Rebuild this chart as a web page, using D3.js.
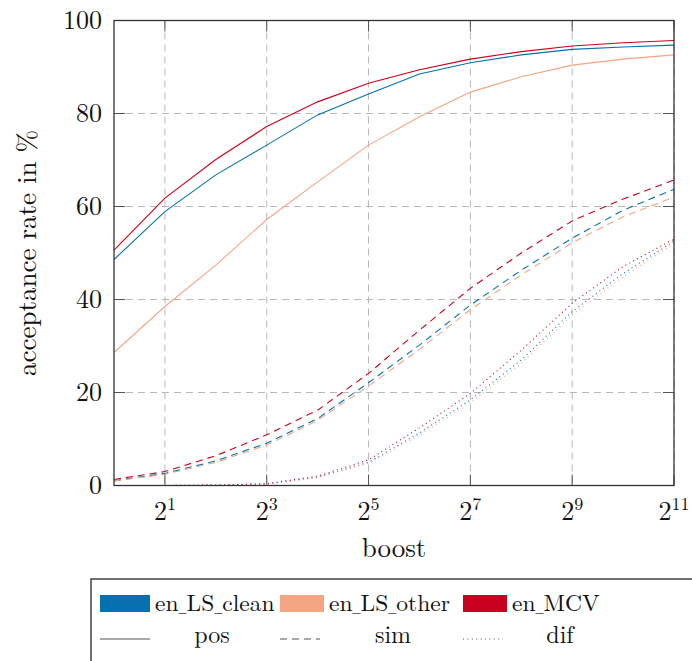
<!DOCTYPE html>
<html>
<head>
<meta charset="utf-8">
<script src="https://cdn.jsdelivr.net/npm/d3@7"></script>
<style>
  body { margin: 0; background: #fff; }
  text { font-family: "Latin Modern Roman", "Liberation Serif", serif; }
</style>
</head>
<body>
<svg id="chart" width="692" height="661"></svg>
<script>
'use strict';

// boost exponents (boost = 2^e)
const exponents = [0, 1, 2, 3, 4, 5, 6, 7, 8, 9, 10, 11];
const xTickExps = [1, 3, 5, 7, 9, 11];
const yTicks = [0, 20, 40, 60, 80, 100];

const datasets = ['en_LS_clean', 'en_LS_other', 'en_MCV'];
const colors = ['#0571b0', '#f4a582', '#ca0020'];

// acceptance rate in %
const posClean = [48.6, 58.9, 66.8, 73.2, 79.7, 84.2, 88.5, 90.9, 92.6, 93.8, 94.3, 94.7];
const posOther = [28.6, 38.5, 47.4, 57.2, 65.3, 73.2, 79.3, 84.6, 87.9, 90.4, 91.7, 92.6];
const posMcv   = [50.6, 61.8, 70.1, 77.2, 82.5, 86.5, 89.4, 91.7, 93.3, 94.5, 95.2, 95.7];

const simClean = [1.0, 2.6, 5.3, 9.1, 14.4, 22.1, 30.2, 38.8, 46.3, 53.2, 59.2, 63.7];
const simOther = [1.0, 2.4, 5.0, 8.7, 14.0, 21.4, 29.3, 37.8, 45.3, 52.2, 57.8, 62.0];
const simMcv   = [1.3, 3.0, 6.4, 10.9, 16.2, 24.1, 33.4, 42.4, 50.0, 56.9, 61.6, 65.7];

const difClean = [0.0, 0.0, 0.1, 0.3, 1.8, 5.0, 11.3, 18.4, 27.0, 37.4, 45.6, 52.5];
const difOther = [0.0, 0.0, 0.1, 0.3, 1.7, 4.8, 10.8, 17.8, 26.3, 36.7, 44.9, 52.0];
const difMcv   = [0.0, 0.0, 0.1, 0.4, 2.0, 5.5, 12.4, 19.8, 29.1, 39.2, 47.1, 53.0];

const legendStyles = ['pos', 'sim', 'dif'];

const DASHED = '7 5';
const DOTTED = '1 3.4';

const series = [
  { color: colors[0], dash: null, values: posClean },
  { color: colors[1], dash: null, values: posOther },
  { color: colors[2], dash: null, values: posMcv },
  { color: colors[0], dash: DASHED, values: simClean },
  { color: colors[1], dash: DASHED, values: simOther },
  { color: colors[2], dash: DASHED, values: simMcv },
  { color: colors[0], dash: DOTTED, values: difClean },
  { color: colors[1], dash: DOTTED, values: difOther },
  { color: colors[2], dash: DOTTED, values: difMcv }
];

const svg = d3.select('#chart');
const plot = { left: 114, right: 674, top: 20.5, bottom: 485.5 };

const x = d3.scaleLinear().domain([0, 11]).range([plot.left, plot.right]);
const y = d3.scaleLinear().domain([0, 100]).range([plot.bottom, plot.top]);

// grid
const grid = svg.append('g')
  .attr('stroke', '#b8b8b8')
  .attr('stroke-width', 1)
  .attr('stroke-dasharray', '7 5');
grid.selectAll('.vg').data(xTickExps).enter().append('line')
  .attr('x1', d => x(d)).attr('x2', d => x(d))
  .attr('y1', plot.top).attr('y2', plot.bottom);
grid.selectAll('.hg').data(yTicks.slice(1, -1)).enter().append('line')
  .attr('y1', d => y(d)).attr('y2', d => y(d))
  .attr('x1', plot.left).attr('x2', plot.right);

// lines
const line = d3.line()
  .x((d, i) => x(exponents[i]))
  .y(d => y(d));

svg.append('g').selectAll('path')
  .data(series)
  .enter().append('path')
    .attr('fill', 'none')
    .attr('stroke', d => d.color)
    .attr('stroke-width', 1.1)
    .attr('stroke-dasharray', d => d.dash)
    .attr('d', d => line(d.values));

// ticks inside, on all four sides
const ticks = svg.append('g').attr('stroke', '#555').attr('stroke-width', 1);
const tl = 11;
xTickExps.forEach(e => {
  ticks.append('line').attr('x1', x(e)).attr('x2', x(e)).attr('y1', plot.bottom).attr('y2', plot.bottom - tl);
  ticks.append('line').attr('x1', x(e)).attr('x2', x(e)).attr('y1', plot.top).attr('y2', plot.top + tl);
});
yTicks.forEach(v => {
  ticks.append('line').attr('y1', y(v)).attr('y2', y(v)).attr('x1', plot.left).attr('x2', plot.left + tl);
  ticks.append('line').attr('y1', y(v)).attr('y2', y(v)).attr('x1', plot.right).attr('x2', plot.right - tl);
});

// frame
svg.append('rect')
  .attr('x', plot.left).attr('y', plot.top)
  .attr('width', plot.right - plot.left).attr('height', plot.bottom - plot.top)
  .attr('fill', 'none').attr('stroke', '#333').attr('stroke-width', 1.3);

// tick labels
svg.append('g').selectAll('text')
  .data(yTicks)
  .enter().append('text')
    .attr('x', plot.left - 12)
    .attr('y', d => y(d) + 8.5)
    .attr('text-anchor', 'end')
    .attr('font-size', 26)
    .attr('fill', '#111')
    .text(d => d);

const xl = svg.append('g').selectAll('text')
  .data(xTickExps)
  .enter().append('text')
    .attr('x', d => x(d))
    .attr('y', 520)
    .attr('text-anchor', 'middle')
    .attr('font-size', 26)
    .attr('fill', '#111');
xl.append('tspan').text('2');
xl.append('tspan').attr('font-size', 18).attr('dy', -10).text(d => d);

// axis titles
svg.append('text')
  .attr('x', (plot.left + plot.right) / 2)
  .attr('y', 557)
  .attr('text-anchor', 'middle')
  .attr('font-size', 27)
  .attr('fill', '#111')
  .text('boost');

svg.append('text')
  .attr('transform', `translate(36, ${(plot.top + plot.bottom) / 2}) rotate(-90)`)
  .attr('text-anchor', 'middle')
  .attr('font-size', 27)
  .attr('fill', '#111')
  .text('acceptance rate in %');

// legend
const lg = svg.append('g');
lg.append('rect')
  .attr('x', 91).attr('y', 579)
  .attr('width', 700).attr('height', 120)
  .attr('fill', '#fff').attr('stroke', '#222').attr('stroke-width', 1.3);

const colX = [100, 280, 463];
datasets.forEach((name, i) => {
  lg.append('rect')
    .attr('x', colX[i]).attr('y', 595)
    .attr('width', i === 0 ? 50 : 44).attr('height', 17)
    .attr('fill', colors[i]);
  const t = lg.append('text')
    .attr('x', colX[i] + (i === 0 ? 55 : 49))
    .attr('y', 611)
    .attr('font-size', 23.5)
    .attr('fill', '#111');
  // LaTeX's \_ is a short rule, narrower than the font's underscore
  name.split('_').forEach((part, k) => {
    if (k > 0) {
      t.append('tspan')
        .attr('textLength', 8)
        .attr('lengthAdjust', 'spacingAndGlyphs')
        .text('_');
    }
    t.append('tspan').text(part);
  });
});

const styleDash = [null, DASHED, DOTTED];
const labelX = [212, 393, 560];
legendStyles.forEach((name, i) => {
  const x0 = i === 0 ? 100 : colX[i];
  lg.append('line')
    .attr('x1', x0).attr('x2', x0 + (i === 0 ? 50 : 40))
    .attr('y1', 639).attr('y2', 639)
    .attr('stroke', '#555')
    .attr('stroke-width', 1.1)
    .attr('stroke-dasharray', styleDash[i]);
  lg.append('text')
    .attr('x', labelX[i])
    .attr('y', 643)
    .attr('text-anchor', 'middle')
    .attr('font-size', 24)
    .attr('fill', '#111')
    .text(name);
});
</script>
</body>
</html>
